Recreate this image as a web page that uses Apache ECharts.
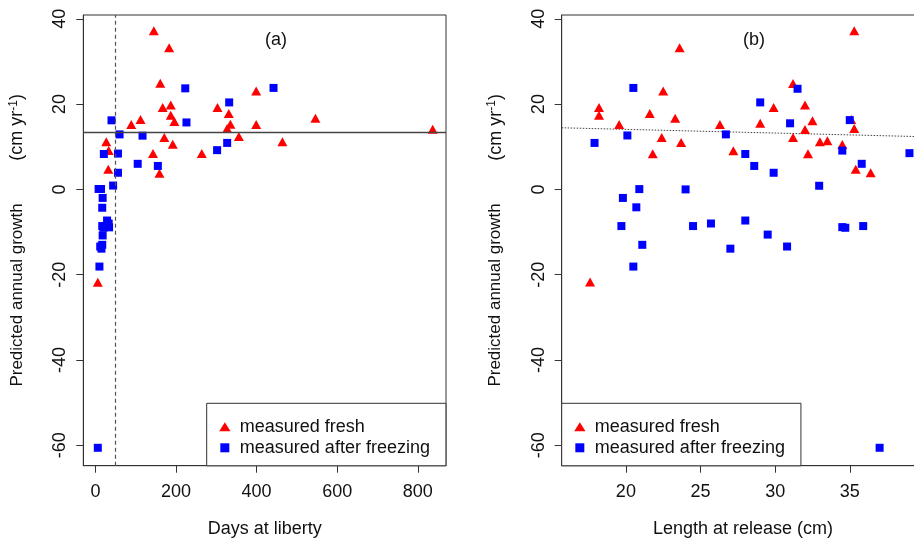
<!DOCTYPE html>
<html>
<head>
<meta charset="utf-8">
<script src="https://cdn.jsdelivr.net/npm/echarts@6/dist/echarts.min.js"></script>
<style>
  html, body { margin: 0; padding: 0; background: #fff; }
  #chart { width: 914px; height: 541px; }
</style>
</head>
<body>
<div id="chart"></div>
<script>
// Panel (a): growth against days at liberty
const freshDays = [145, 183, 161, 167, 187, 187, 196, 89, 112, 171, 192, 143, 264, 159, 27, 33, 32, 303, 331, 335, 327, 356, 399, 399, 464, 546, 837, 6];
const freshGrowthA = [37.2, 33.2, 24.9, 19.2, 19.8, 17.4, 15.9, 15.2, 16.4, 12.2, 10.6, 8.4, 8.4, 3.8, 11.2, 9.1, 4.7, 19.2, 17.8, 15.3, 14.3, 12.4, 23.1, 15.2, 11.2, 16.7, 14.1, -21.8];
const frozenDays = [40, 223, 226, 60, 117, 21, 56, 302, 105, 155, 56, 44, 8, 14, 18, 17, 29, 33, 17, 24, 34, 20, 18, 17, 12, 15, 10, 6, 332, 327, 442];
const frozenGrowthA = [16.2, 23.7, 15.7, 12.9, 12.6, 8.3, 8.4, 9.2, 6.0, 5.5, 3.9, 0.9, 0.1, 0.1, -2.0, -4.3, -7.3, -8.0, -8.6, -8.6, -8.9, -9.0, -10.8, -13.0, -13.4, -13.9, -18.1, -60.6, 20.4, 10.9, 23.8];
const meanGrowth = 13.4;
const cutoffDays = 50;

// Panel (b): growth against length at release
const freshLength = [18.2, 18.2, 19.55, 21.6, 21.8, 22.4, 22.5, 23.3, 23.6, 23.7, 26.3, 27.2, 29.0, 29.9, 31.2, 31.2, 32.0, 32.0, 32.2, 32.5, 33.0, 33.5, 34.5, 35.1, 35.3, 35.3, 35.4, 36.4, 17.6];
const freshGrowthB = [19.2, 17.4, 15.2, 17.8, 8.35, 12.2, 23.05, 16.7, 33.2, 11.0, 15.2, 9.05, 15.5, 19.2, 24.85, 12.2, 19.8, 14.05, 8.35, 16.1, 11.2, 11.4, 10.55, 16.4, 37.2, 14.3, 4.75, 3.9, -21.7];
const frozenLength = [17.9, 20.5, 20.1, 19.8, 19.7, 20.7, 20.9, 21.1, 20.5, 24.0, 24.5, 25.7, 26.7, 27.0, 28.0, 28.0, 28.6, 29.0, 29.5, 29.9, 30.8, 31.0, 31.5, 32.95, 34.5, 34.5, 34.7, 35.0, 35.8, 35.9, 39.0, 37.0];
const frozenGrowthB = [10.9, 23.8, 12.65, -2.0, -8.6, -4.2, 0.07, -13.0, -18.1, 0, -8.6, -8.0, 12.9, -13.9, 8.3, -7.3, 5.5, 20.4, -10.6, 3.9, -13.4, 15.5, 23.6, 0.85, 9.1, -8.85, -9.0, 16.25, 6.0, -8.6, 8.5, -60.6];
const trendLength = [15.7, 40];
const trendGrowth = [14.45, 12.35];

// Axis ticks
const daysTicks = [0, 200, 400, 600, 800];
const lengthTicks = [20, 25, 30, 35];
const growthTicks = [-60, -40, -20, 0, 20, 40];

const zip = (xs, ys) => xs.map((x, i) => [x, ys[i]]);

const FONT = 'Liberation Sans, Arial, sans-serif';
const AXIS_COLOR = '#333';
const RED = '#ff0000';
const BLUE = '#0000ff';
const FRESH = 'measured fresh';
const FROZEN = 'measured after freezing';

const GRID_TOP = 15, GRID_H = 450.7, GRID_W = 362.7;

function xAxisCfg(gridIndex, min, max, ticks, name) {
  return {
    type: 'value', gridIndex, min, max,
    name, nameLocation: 'middle', nameGap: 54,
    nameTextStyle: { fontFamily: FONT, fontSize: 18, color: '#111' },
    axisLine: { show: true, onZero: false, lineStyle: { color: AXIS_COLOR, width: 1 } },
    axisTick: { show: true, length: 7, customValues: ticks, lineStyle: { color: AXIS_COLOR } },
    axisLabel: { customValues: ticks, margin: 17, fontFamily: FONT, fontSize: 18, color: '#111' },
    splitLine: { show: false }
  };
}

function yAxisCfg(gridIndex) {
  return {
    type: 'value', gridIndex, min: -64.8, max: 40.9,
    name: 'Predicted annual growth         {unit|(cm yr}{sup|-1}{unit|)}',
    nameLocation: 'middle', nameGap: 56,
    nameTextStyle: {
      fontFamily: FONT, fontSize: 17, color: '#111',
      rich: {
        unit: { fontFamily: FONT, fontSize: 18, color: '#111' },
        sup: { fontFamily: FONT, fontSize: 12, color: '#111', verticalAlign: 'top', padding: [0, 0, 8, 0] }
      }
    },
    axisLine: { show: true, onZero: false, lineStyle: { color: AXIS_COLOR, width: 1 } },
    axisTick: { show: true, length: 7, customValues: growthTicks, lineStyle: { color: AXIS_COLOR } },
    axisLabel: { customValues: growthTicks, rotate: 90, margin: 14, fontFamily: FONT, fontSize: 18, color: '#111' },
    splitLine: { show: false }
  };
}

function legendCfg(left) {
  return {
    left, top: 403.3,
    orient: 'vertical',
    backgroundColor: '#fff',
    borderColor: AXIS_COLOR, borderWidth: 1, borderRadius: 0,
    padding: [13.5, 16, 8, 12.5],
    itemWidth: 20, itemHeight: 9, itemGap: 1,
    symbolKeepAspect: true,
    selectedMode: false,
    textStyle: { fontFamily: FONT, fontSize: 18, lineHeight: 20, color: '#111' },
    data: [
      { name: FRESH, icon: 'path://M5,0L10,8L0,8Z', itemStyle: { color: RED, opacity: 1 } },
      { name: FROZEN, icon: 'path://M0,0L8,0L8,8L0,8Z', itemStyle: { color: BLUE, opacity: 1 } }
    ]
  };
}

function scatter(name, xi, data, color, isFresh) {
  return {
    type: 'scatter', name, xAxisIndex: xi, yAxisIndex: xi, data,
    symbol: isFresh ? 'triangle' : 'rect',
    symbolSize: isFresh ? [10, 9] : [8, 8],
    itemStyle: { color, opacity: 1 },
    silent: true, z: 3
  };
}

function gridCfg(left) {
  return {
    left, top: GRID_TOP, width: GRID_W, height: GRID_H,
    show: true, borderColor: AXIS_COLOR, borderWidth: 1, backgroundColor: 'transparent',
    containLabel: false, outerBoundsMode: 'none'
  };
}

const option = {
  backgroundColor: '#fff',
  animation: false,
  grid: [gridCfg(83.3), gridCfg(561.7)],
  xAxis: [
    xAxisCfg(0, -30, 870, daysTicks, 'Days at liberty'),
    xAxisCfg(1, 15.7, 40, lengthTicks, 'Length at release (cm)')
  ],
  yAxis: [yAxisCfg(0), yAxisCfg(1)],
  legend: [legendCfg(206.7), legendCfg(561.7)],
  graphic: [
    { type: 'text', x: 276, y: 40, style: { text: '(a)', fontFamily: FONT, fontSize: 18, fill: '#111', align: 'center', verticalAlign: 'middle' } },
    { type: 'text', x: 754, y: 40, style: { text: '(b)', fontFamily: FONT, fontSize: 18, fill: '#111', align: 'center', verticalAlign: 'middle' } }
  ],
  series: [
    {
      type: 'line', xAxisIndex: 0, yAxisIndex: 0, data: [], silent: true,
      markLine: {
        silent: true, symbol: 'none', label: { show: false },
        data: [
          { yAxis: meanGrowth, lineStyle: { color: '#444', width: 1.3, type: 'solid' } },
          { xAxis: cutoffDays, lineStyle: { color: '#555', width: 1.2, type: [4, 3] } }
        ]
      }
    },
    scatter(FRESH, 0, zip(freshDays, freshGrowthA), RED, true),
    scatter(FROZEN, 0, zip(frozenDays, frozenGrowthA), BLUE, false),
    {
      type: 'line', xAxisIndex: 1, yAxisIndex: 1, data: zip(trendLength, trendGrowth),
      symbol: 'none', silent: true,
      lineStyle: { color: '#444', width: 1, type: [1.5, 1.5] }
    },
    scatter(FRESH, 1, zip(freshLength, freshGrowthB), RED, true),
    scatter(FROZEN, 1, zip(frozenLength, frozenGrowthB), BLUE, false)
  ]
};

const chart = echarts.init(document.getElementById('chart'), null, { renderer: 'canvas' });
chart.setOption(option);
</script>
</body>
</html>
